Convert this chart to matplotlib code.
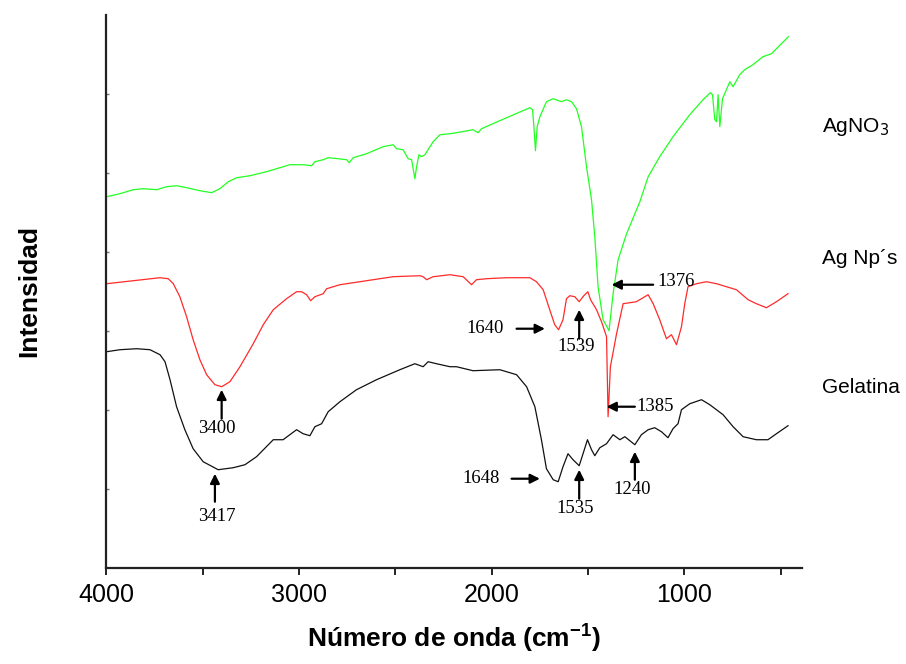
import numpy as np
import matplotlib

matplotlib.use("Agg")
import matplotlib.pyplot as plt
from matplotlib.ticker import MultipleLocator

# FTIR spectra (wavenumber in cm-1, intensity in arbitrary units, offset traces)
agno3_wn = [3999, 3930, 3861, 3809, 3739, 3688, 3636, 3584, 3515, 3454, 3411, 3368, 3324, 3255,
            3169, 3048, 2979, 2935, 2918, 2875, 2849, 2797, 2753, 2740, 2719, 2650, 2564, 2512,
            2494, 2460, 2434, 2416, 2408, 2399, 2390, 2378, 2364, 2347, 2304, 2269, 2217, 2183,
            2097, 2071, 2053, 1923, 1802, 1788, 1780, 1773, 1764, 1750, 1716, 1681, 1638, 1612,
            1586, 1560, 1534, 1508, 1482, 1465, 1448, 1422, 1391, 1370, 1344, 1300, 1231, 1188,
            1128, 1059, 972, 903, 865, 854, 842, 833, 825, 816, 802, 764, 747, 713, 687, 644,
            592, 548, 522, 460]
agno3_int = [371, 374, 378, 379, 378, 381, 382, 380, 377, 375, 379, 386, 390, 392,
             396, 403, 403, 402, 406, 408, 410, 409, 408, 405, 410, 414, 421, 423,
             419, 418, 409, 408, 399, 389, 401, 413, 411, 413, 426, 433, 434, 435,
             438, 435, 439, 450, 460, 458, 438, 417, 441, 451, 466, 469, 466, 468,
             466, 459, 441, 401, 368, 331, 281, 248, 237, 274, 308, 334, 366, 391,
             411, 431, 453, 468, 475, 473, 448, 446, 473, 441, 469, 486, 481, 493, 498, 503,
             511, 514, 519, 531]

agnp_wn = [3999, 3861, 3722, 3679, 3653, 3619, 3584, 3550, 3515, 3480, 3437, 3402, 3359, 3307,
           3238, 3186, 3134, 3065, 3013, 2987, 2961, 2940, 2918, 2875, 2857, 2788, 2650, 2512,
           2373, 2356, 2338, 2304, 2217, 2148, 2105, 2079, 2027, 1923, 1802, 1768, 1733, 1699,
           1673, 1653, 1630, 1612, 1595, 1569, 1546, 1522, 1501, 1487, 1456, 1430, 1404, 1396,
           1384, 1352, 1318, 1249, 1188, 1162, 1128, 1093, 1067, 1041, 1015, 998, 981, 937,
           885, 833, 782, 730, 669, 626, 574, 522, 462]
agnp_int = [284, 287, 290, 289, 284, 271, 251, 228, 208, 193, 183, 181, 186, 201,
            224, 243, 258, 269, 276, 276, 273, 267, 271, 274, 279, 283, 287, 291,
            292, 291, 288, 291, 293, 291, 283, 288, 289, 290, 290, 286, 278, 258,
            243, 238, 248, 269, 272, 271, 266, 272, 276, 268, 258, 246, 231, 151,
            201, 234, 264, 266, 273, 264, 248, 229, 233, 223, 241, 264, 281, 284,
            286, 284, 281, 278, 268, 264, 260, 266, 274]

gel_wn = [3999, 3930, 3843, 3774, 3722, 3696, 3670, 3636, 3593, 3550, 3498, 3420, 3342, 3281,
          3221, 3134, 3083, 3013, 2979, 2944, 2918, 2883, 2849, 2788, 2702, 2598, 2477, 2399,
          2356, 2330, 2287, 2217, 2183, 2097, 1958, 1871, 1819, 1776, 1742, 1716, 1681, 1655,
          1630, 1604, 1578, 1546, 1526, 1503, 1482, 1465, 1439, 1404, 1370, 1335, 1309, 1257,
          1223, 1188, 1154, 1119, 1085, 1059, 1033, 1015, 972, 911, 868, 799, 747, 695,
          626, 566, 522, 462]
gel_int = [216, 218, 219, 218, 213, 206, 188, 161, 138, 119, 106, 98, 100, 103,
           111, 128, 128, 138, 134, 132, 141, 144, 156, 166, 178, 188, 198, 204,
           201, 206, 204, 201, 201, 197, 198, 193, 181, 161, 128, 99, 88, 86,
           101, 114, 108, 102, 114, 128, 118, 112, 120, 124, 133, 128, 131, 123,
           133, 138, 140, 136, 130, 139, 144, 158, 164, 168, 163, 153, 141, 131,
           128, 128, 134, 142]

trace_labels = ["AgNO$_3$", "Ag Np\u00b4s", "Gelatina"]

# peak annotations: label, arrow tip (wn, int), arrow tail (wn, int), text centre (wn, int)
peak_labels = ["3400", "3417", "1640", "1539", "1376", "1385", "1648", "1535", "1240"]
peak_tips = [(3402, 178), (3437, 94), (1724, 239), (1546, 258), (1378, 283),
             (1404, 161), (1750, 89), (1546, 98), (1257, 116)]
peak_tails = [(3402, 149), (3437, 66), (1871, 239), (1546, 229), (1162, 283),
              (1257, 161), (1897, 89), (1546, 69), (1257, 88)]
peak_text = [(3428, 139), (3428, 51), (2036, 239), (1560, 221), (1041, 286),
             (1154, 161), (2053, 89), (1569, 59), (1269, 78)]

fig = plt.figure(figsize=(9.06, 6.64), dpi=100)
ax = fig.add_axes([0.1175, 0.145, 0.768, 0.8324])

ax.plot(agno3_wn, agno3_int, color="#22ff22", lw=0.9)
ax.plot(agnp_wn, agnp_int, color="#ff2a2a", lw=0.9)
ax.plot(gel_wn, gel_int, color="#111111", lw=0.9)

ax.set_xlim(4000, 388)
ax.set_ylim(0, 552.7)

for spine in ("top", "right"):
    ax.spines[spine].set_visible(False)
for spine in ("left", "bottom"):
    ax.spines[spine].set_linewidth(1.6)
    ax.spines[spine].set_color("#222222")

ax.xaxis.set_major_locator(MultipleLocator(1000))
ax.xaxis.set_minor_locator(MultipleLocator(500))
ax.tick_params(axis="x", which="both", direction="out", length=5, width=1.4,
               colors="#222222", labelsize=18, pad=6)
ax.set_yticks(np.linspace(0, 552.7, 8)[1:-1])
ax.tick_params(axis="y", which="both", direction="in", length=2, width=1,
               colors="#777777", labelleft=False)
for lbl in ax.get_xticklabels():
    lbl.set_family(["Liberation Sans", "DejaVu Sans"])
    lbl.set_color("black")

ax.set_xlabel("Número de onda (cm$^{\\mathregular{-1}}$)", fontsize=19, fontweight="bold",
              family=["Liberation Sans", "DejaVu Sans"], labelpad=10)
ax.set_ylabel("Intensidad", fontsize=19, fontweight="bold",
              family=["Liberation Sans", "DejaVu Sans"], labelpad=47)

for name, ypos in zip(trace_labels, [0.809, 0.611, 0.416]):
    fig.text(0.907, ypos, name, fontsize=15, ha="left", va="center",
             family=["Liberation Sans", "DejaVu Sans"])

arrow = dict(arrowstyle="-|>", color="black", lw=1.6, mutation_scale=14, shrinkA=0, shrinkB=0)
for lab, tip, tail, txt in zip(peak_labels, peak_tips, peak_tails, peak_text):
    ax.annotate("", xy=tip, xytext=tail, arrowprops=arrow)
    ax.text(txt[0], txt[1], lab, fontsize=13.5, ha="center", va="center",
            family=["Liberation Serif", "DejaVu Serif"])

fig.savefig("out.png", dpi=100)
